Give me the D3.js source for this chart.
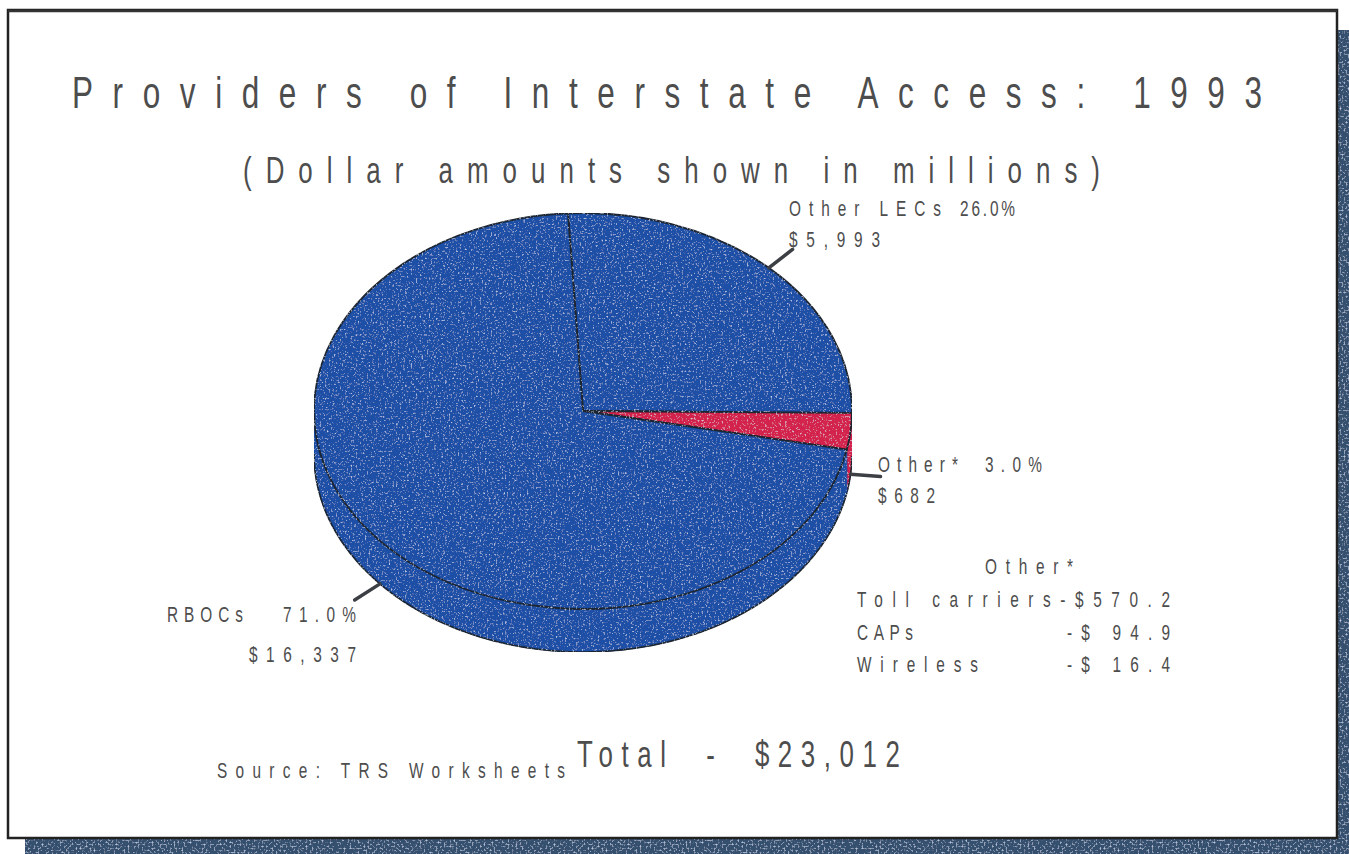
<!DOCTYPE html>
<html>
<head>
<meta charset="utf-8">
<script src="https://cdn.jsdelivr.net/npm/d3@7"></script>
<style>
  html, body { margin: 0; padding: 0; background: #ffffff; }
  svg { display: block; }
  text { font-family: "Liberation Sans", "DejaVu Sans", sans-serif; fill: #4d4d4d; white-space: pre; }
</style>
</head>
<body>
<svg id="chart" width="1349" height="854"></svg>
<script>
// Interstate access revenue by provider, 1993 ($ millions)
const categories = ["Other LECs", "Other*", "RBOCs"];
const values = [5993, 682, 16337];
const sliceColors = ["#1a4fa5", "#d3204b", "#1a4fa5"];

// Breakdown of the "Other*" slice ($ millions)
const otherNames = ["Toll carriers", "CAPs", "Wireless"];
const otherValues = [570.2, 94.9, 16.4];

const titleText = "Providers of Interstate Access: 1993";
const subtitleText = "(Dollar amounts shown in millions)";
const sourceText = "Source: TRS Worksheets";

const svg = d3.select("#chart");
const W = 1349, H = 854;

// light speckle for the printed look of filled areas
const defs = svg.append("defs");
function makeGrain(id, seed, freq, row) {
  const f = defs.append("filter").attr("id", id)
    .attr("x", 0).attr("y", 0).attr("width", 1).attr("height", 1);
  f.append("feTurbulence").attr("type", "fractalNoise")
    .attr("baseFrequency", freq).attr("numOctaves", 2).attr("seed", seed).attr("result", "noise");
  f.append("feColorMatrix").attr("in", "noise").attr("type", "matrix")
    .attr("values", "0 0 0 0 0.7  0 0 0 0 0.8  0 0 0 0 1  0 0 0 " + row).attr("result", "specks");
  f.append("feComposite").attr("in", "specks").attr("in2", "SourceGraphic")
    .attr("operator", "in").attr("result", "specksIn");
  const m = f.append("feMerge");
  m.append("feMergeNode").attr("in", "SourceGraphic");
  m.append("feMergeNode").attr("in", "specksIn");
}
makeGrain("grain", 4, 0.55, "2.5 -1.45");
makeGrain("grainShadow", 9, 0.5, "2.2 -1.15");

// card with drop shadow
const card = { x: 8, y: 10, w: 1329, h: 828 };
const shadow = svg.append("g").attr("filter", "url(#grainShadow)");
shadow.append("rect").attr("x", card.x + card.w).attr("y", 30)
  .attr("width", W - (card.x + card.w)).attr("height", H - 30).attr("fill", "#34506e");
shadow.append("rect").attr("x", 25).attr("y", card.y + card.h)
  .attr("width", W - 25).attr("height", H - (card.y + card.h)).attr("fill", "#34506e");
svg.append("rect").attr("x", card.x).attr("y", card.y)
  .attr("width", card.w).attr("height", card.h)
  .attr("fill", "#ffffff").attr("stroke", "#222").attr("stroke-width", 2.5);
svg.append("line").attr("x1", card.x).attr("x2", card.x + card.w)
  .attr("y1", card.y + 1).attr("y2", card.y + 1)
  .attr("stroke", "#333").attr("stroke-width", 2.5);

// condensed, letter-spaced text fitted to a given width
const squeeze = 0.7;
function fitText(str, x, y, size, width) {
  const t = svg.append("text")
    .attr("transform", `translate(${x},${y}) scale(${squeeze},1)`)
    .attr("font-size", size)
    .text(str);
  if (width) t.attr("textLength", width / squeeze).attr("lengthAdjust", "spacing");
  return t;
}

fitText(titleText, 72, 108, 45, 1190);
fitText(subtitleText, 243, 183, 37, 857);

// ---- 3D pie ----
const cx = 583, cy = 411, rx = 269, ry = 198, depth = 43;
const deg = Math.PI / 180;
const start = -3.2 * deg;
const pie = d3.pie().sort(null).startAngle(start).endAngle(start + 2 * Math.PI);
const arcs = pie(values);
const total = d3.sum(values);

// point on the projected rim for a d3 angle (0 = up, clockwise)
const rim = (a, dy) => [cx + rx * Math.sin(a), cy - ry * Math.cos(a) + (dy || 0)];

const pieG = svg.append("g").attr("filter", "url(#grain)");

// side wall: only the front half (angles between pi/2 and 3pi/2) is visible
const line = d3.line();
arcs.forEach((d, i) => {
  const segs = [];
  for (let k = -1; k <= 1; k++) {
    const s = Math.max(d.startAngle + k * 2 * Math.PI, Math.PI / 2);
    const e = Math.min(d.endAngle + k * 2 * Math.PI, 3 * Math.PI / 2);
    if (e > s) segs.push([s, e]);
  }
  segs.forEach(([s, e]) => {
    const n = Math.max(2, Math.ceil((e - s) / deg));
    const ts = d3.range(n + 1).map(j => s + (e - s) * j / n);
    const top = ts.map(a => rim(a, 0));
    const bot = ts.slice().reverse().map(a => rim(a, depth));
    pieG.append("path")
      .attr("d", line(top.concat(bot)) + "Z")
      .attr("fill", sliceColors[i])
      .attr("stroke", sliceColors[i]).attr("stroke-width", 0.8);
    pieG.append("path")
      .attr("d", line(ts.map(a => rim(a, depth))))
      .attr("fill", "none").attr("stroke", "#1e2530").attr("stroke-width", 1.6);
  });
});

// top face
const arcGen = d3.arc().innerRadius(0).outerRadius(rx);
pieG.append("g")
  .attr("transform", `translate(${cx},${cy}) scale(1,${ry / rx})`)
  .selectAll("path")
  .data(arcs)
  .join("path")
  .attr("d", arcGen)
  .attr("fill", (d, i) => sliceColors[i])
  .attr("stroke", "#1e2530")
  .attr("stroke-width", 1.8)
  .attr("vector-effect", "non-scaling-stroke")
  .attr("stroke-linejoin", "round");

// leader ticks at each slice's mid angle
const leadLen = 30;
const leaders = arcs.map(d => {
  const m = (d.startAngle + d.endAngle) / 2;
  const mm = ((m % (2 * Math.PI)) + 2 * Math.PI) % (2 * Math.PI);
  const front = mm > Math.PI / 2 && mm < 3 * Math.PI / 2;
  const p = rim(m, front ? depth : 0);
  let ux = Math.sin(m), uy = -Math.cos(m) * (ry / rx);
  const L = Math.hypot(ux, uy);
  ux /= L; uy /= L;
  return [p, [p[0] + ux * leadLen, p[1] + uy * leadLen]];
});
svg.append("g").selectAll("line").data(leaders).join("line")
  .attr("x1", d => d[0][0]).attr("y1", d => d[0][1])
  .attr("x2", d => d[1][0]).attr("y2", d => d[1][1])
  .attr("stroke", "#3c3f44").attr("stroke-width", 3.5).attr("stroke-linecap", "round");

// slice labels
const pct = d3.format(".1f");
const money = d3.format(",.0f");
const labelSize = 22;
const labelLayout = [
  { name: [789, 216, 152], pct: [960, 216, 55], amt: [789, 247, 91] },
  { name: [878, 472, 80], pct: [985, 472, 57], amt: [878, 503, 57] },
  { name: [167, 622, 76], pct: [283, 622, 73], amt: [249, 662, 107] }
];
categories.forEach((c, i) => {
  const L = labelLayout[i];
  fitText(c, L.name[0], L.name[1], labelSize, L.name[2]);
  fitText(pct(values[i] / total * 100) + "%", L.pct[0], L.pct[1], labelSize, L.pct[2]);
  fitText("$" + money(values[i]), L.amt[0], L.amt[1], labelSize, L.amt[2]);
});

// breakdown of "Other*"
fitText(categories[1], 985, 574, labelSize, 88);
const amt1 = d3.format(".1f");
const rowY = [607, 640, 672];
otherNames.forEach((n, i) => {
  if (i === 0) {
    fitText(n + "-$" + amt1(otherValues[i]), 857, rowY[i], labelSize, 313);
  } else {
    const nameW = [0, 56, 121][i];
    fitText(n, 857, rowY[i], labelSize, nameW);
    fitText("-$ " + amt1(otherValues[i]), 1067, rowY[i], labelSize, 103);
  }
});

// footer
fitText(sourceText, 217, 778, labelSize, 348);
fitText("Total  -  $" + money(total), 577, 767, 37, 323);
</script>
</body>
</html>
